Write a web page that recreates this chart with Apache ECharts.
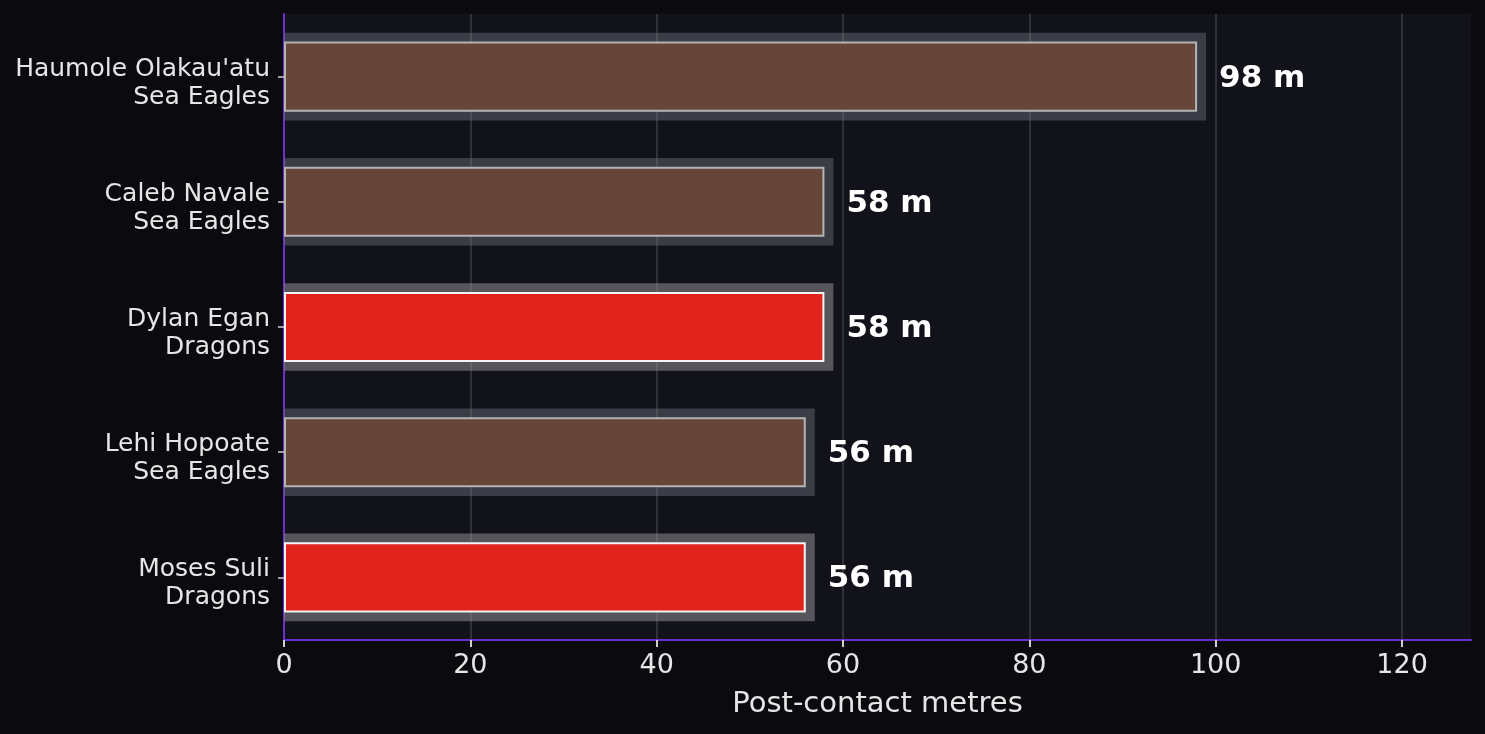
<html>
<head>
    <meta charset="utf-8">
    <title>Post-contact metres</title>
    <script src="https://cdn.jsdelivr.net/npm/echarts@6/dist/echarts.min.js"></script>
    <style>
        html, body { margin: 0; padding: 0; background: #0b0b0f; }
        #main { width: 1485px; height: 734px; }
    </style>
</head>
<body>
<div id="main"></div>
<script type="text/javascript">
    // data, top to bottom
    var players = ['Haumole Olakau\'atu', 'Caleb Navale', 'Dylan Egan', 'Lehi Hopoate', 'Moses Suli'];
    var teams = ['Sea Eagles', 'Sea Eagles', 'Dragons', 'Sea Eagles', 'Dragons'];
    var metres = [98, 58, 58, 56, 56];
    var xTicks = [0, 20, 40, 60, 80, 100, 120];

    var teamFill = { 'Sea Eagles': '#67463a', 'Dragons': '#e1231e' };
    var teamEdge = { 'Sea Eagles': '#b4b4b4', 'Dragons': '#f4f4f4' };
    var teamShadow = { 'Sea Eagles': 'rgba(110,112,125,0.45)', 'Dragons': 'rgba(140,140,145,0.55)' };

    var categories = players.map(function (p, i) { return p + '\n' + teams[i]; });

    // grid lines at the ticks only, none at the axis end
    var gridColors = xTicks.map(function () { return '#3c3d44'; });
    gridColors.push('rgba(0,0,0,0)');

    var myChart = echarts.init(document.getElementById('main'));
    var option = {
        backgroundColor: '#0b0b0f',
        animation: false,
        grid: {
            left: 284, right: 14, top: 14, bottom: 94,
            show: true,
            backgroundColor: '#12131a',
            borderWidth: 0
        },
        xAxis: {
            type: 'value',
            min: 0,
            max: 127.4,
            interval: 20,
            name: 'Post-contact metres',
            nameLocation: 'middle',
            nameGap: 50,
            nameTextStyle: { color: '#e6e6e6', fontSize: 29, fontFamily: 'DejaVu Sans' },
            axisLine: { show: true, lineStyle: { color: '#6a2fd0', width: 2 } },
            axisTick: { show: true, length: 7, customValues: xTicks, lineStyle: { color: '#cfcfcf', width: 2 } },
            axisLabel: {
                color: '#e6e6e6', fontSize: 27, fontFamily: 'DejaVu Sans', margin: 12,
                customValues: xTicks
            },
            splitLine: { show: true, lineStyle: { color: gridColors, width: 1.5 } }
        },
        yAxis: {
            type: 'category',
            inverse: true,
            data: categories,
            axisLine: { show: true, lineStyle: { color: '#6a2fd0', width: 2 } },
            axisTick: { show: true, alignWithLabel: true, length: 6, lineStyle: { color: '#cfcfcf', width: 1.5 } },
            axisLabel: {
                color: '#e6e6e6', fontSize: 25, lineHeight: 28, fontFamily: 'DejaVu Sans',
                align: 'right', margin: 14,
                // an empty first line nudges the two text lines down a little
                formatter: function (v) {
                    var parts = v.split('\n');
                    return '{s|}\n{t|' + parts[0] + '}\n{t|' + parts[1] + '}';
                },
                rich: {
                    s: { lineHeight: 13, fontSize: 1 },
                    t: { color: '#e6e6e6', fontSize: 25, lineHeight: 28, fontFamily: 'DejaVu Sans', align: 'right' }
                }
            },
            splitLine: { show: false }
        },
        series: [
            {
                // grey plate behind each bar
                type: 'custom',
                z: 1,
                clip: false,
                data: metres.map(function (m, i) { return [m, i]; }),
                renderItem: function (params, api) {
                    var i = api.value(1);
                    var start = api.coord([0, i]);
                    var end = api.coord([api.value(0), i]);
                    var band = api.size([0, 1])[1];
                    var h = band * 0.7;
                    return {
                        type: 'rect',
                        shape: { x: start[0], y: start[1] - h / 2, width: end[0] - start[0] + 9, height: h },
                        style: { fill: teamShadow[teams[i]] }
                    };
                }
            },
            {
                type: 'bar',
                z: 3,
                barWidth: '56%',
                data: metres.map(function (m, i) {
                    return {
                        value: m,
                        itemStyle: {
                            color: teamFill[teams[i]],
                            borderColor: teamEdge[teams[i]],
                            borderWidth: 2
                        }
                    };
                }),
                label: {
                    show: true,
                    position: 'right',
                    distance: 22,
                    offset: [0, 2],
                    formatter: '{c} m',
                    color: '#ffffff',
                    fontSize: 31,
                    fontWeight: 'bold',
                    fontFamily: 'DejaVu Sans'
                }
            }
        ]
    };
    myChart.setOption(option);
</script>
</body>
</html>
